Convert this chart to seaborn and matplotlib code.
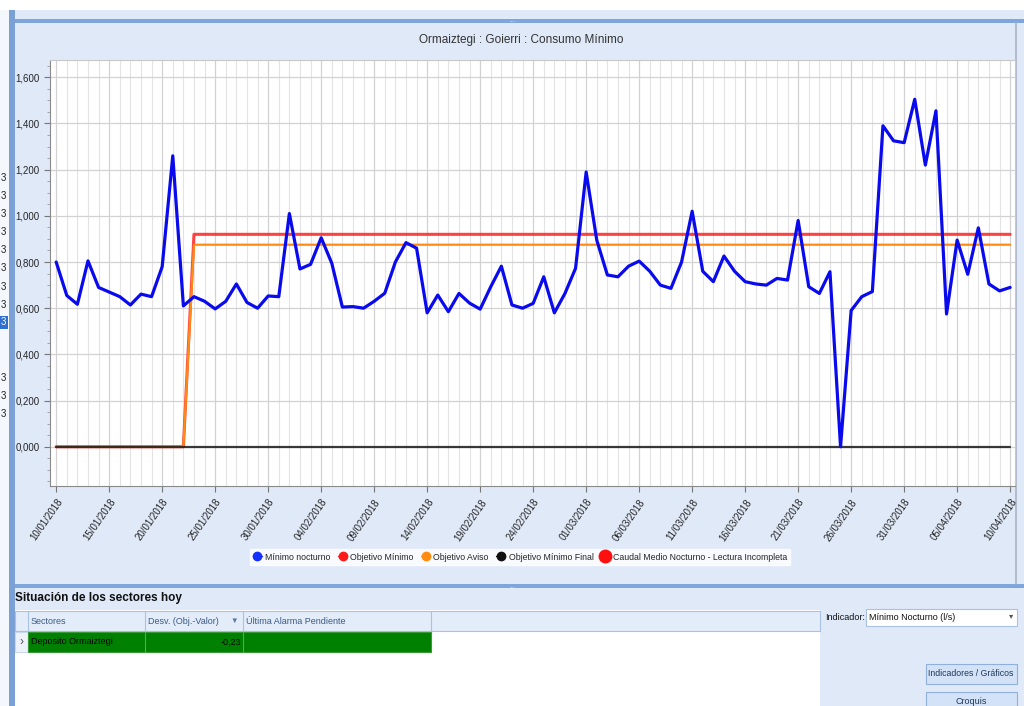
import pandas as pd
import matplotlib.pyplot as plt
import seaborn as sns
from matplotlib.patches import Rectangle
from matplotlib.lines import Line2D
from matplotlib.ticker import MultipleLocator, FuncFormatter

# --- Datos ---
fechas = pd.date_range('2018-01-10', '2018-04-10', freq='D')

minimo_nocturno = [
    0.80, 0.655, 0.617, 0.805, 0.69, 0.67, 0.65, 0.614, 0.661, 0.65,
    0.78, 1.26, 0.61, 0.65, 0.63, 0.597, 0.63, 0.705, 0.625, 0.60,
    0.653, 0.65, 1.01, 0.77, 0.79, 0.905, 0.795, 0.605, 0.607, 0.60,
    0.63, 0.665, 0.80, 0.884, 0.86, 0.58, 0.657, 0.585, 0.664, 0.622,
    0.596, 0.693, 0.782, 0.614, 0.60, 0.621, 0.736, 0.58, 0.664, 0.773,
    1.19, 0.895, 0.744, 0.736, 0.782, 0.804, 0.76, 0.70, 0.686, 0.80,
    1.02, 0.76, 0.715, 0.826, 0.76, 0.715, 0.705, 0.70, 0.729, 0.722,
    0.98, 0.693, 0.664, 0.758, 0.0, 0.59, 0.65, 0.672, 1.39, 1.325,
    1.317, 1.505, 1.22, 1.455, 0.575, 0.895, 0.747, 0.948, 0.705, 0.675,
    0.69,
]
objetivo_minimo = [0.0] * 13 + [0.92] * 78
objetivo_aviso = [0.0] * 13 + [0.875] * 78
objetivo_minimo_final = [0.0] * 91

etiquetas_x = ['10/01/2018', '15/01/2018', '20/01/2018', '25/01/2018', '30/01/2018',
               '04/02/2018', '09/02/2018', '14/02/2018', '19/02/2018', '24/02/2018',
               '01/03/2018', '06/03/2018', '11/03/2018', '16/03/2018', '21/03/2018',
               '26/03/2018', '31/03/2018', '05/04/2018', '10/04/2018']

series_leyenda = ['Mínimo nocturno', 'Objetivo Mínimo', 'Objetivo Aviso',
                  'Objetivo Mínimo Final', 'Caudal Medio Nocturno - Lectura Incompleta']

columnas_tabla = ['Sectores', 'Desv. (Obj.-Valor)', 'Última Alarma Pendiente']
fila_tabla = ['Deposito Ormaiztegi', '-0,23', '']

# --- Estilo ---
sns.set_style('white')
plt.rcParams['font.family'] = ['Liberation Sans', 'DejaVu Sans']

W, H = 1024, 706
fig = plt.figure(figsize=(W / 100, H / 100), dpi=100)
fig.patch.set_facecolor('#dfe9f8')

# capa de interfaz en coordenadas de pixel
ui = fig.add_axes([0, 0, 1, 1], zorder=-1)
ui.set_xlim(0, W)
ui.set_ylim(H, 0)
ui.axis('off')

def caja(x0, y0, x1, y1, fc, ec='none', lw=0.8):
    ui.add_patch(Rectangle((x0, y0), x1 - x0, y1 - y0, facecolor=fc, edgecolor=ec, linewidth=lw))

caja(0, 0, W, 10, 'white')
caja(0, 10, 9, H, '#f4f7fc')
caja(9, 10, 15, H, '#7aa0d6')
caja(15, 19, W, 23, '#7ea6dc')
caja(15, 584, W, 588, '#7ea6dc')
ui.text(W / 2, 21, '....', color='white', fontsize=4, ha='center', va='center')
ui.text(W / 2, 586, '....', color='white', fontsize=4, ha='center', va='center')
ui.plot([1016, 1016], [23, 584], color='#aab4c6', lw=1.2)

# restos de otro panel a la izquierda
for yy in [178, 196, 214, 232, 250, 268, 287, 305, 378, 396, 414]:
    ui.text(1, yy, '3', fontsize=7, va='center', color='#222')
caja(0, 316, 8, 329, '#2f6fd0')
ui.text(1, 322, '3', fontsize=7, va='center', color='white')

# titulo
ui.text(521, 40, 'Ormaiztegi : Goierri : Consumo Mínimo', fontsize=8.5,
        ha='center', va='center', color='#333333')

# --- Gráfico principal ---
ax = fig.add_axes([50 / W, 1 - 486 / H, (1015 - 50) / W, (486 - 60) / H])
ax.set_facecolor('white')

sns.lineplot(x=fechas, y=objetivo_minimo, color='#ff2020', linewidth=2.2, alpha=0.85, ax=ax)
sns.lineplot(x=fechas, y=objetivo_aviso, color='#ff8a14', linewidth=1.6, ax=ax)
sns.lineplot(x=fechas, y=objetivo_minimo_final, color='#1a1a1a', linewidth=1.6, alpha=0.85, ax=ax)
sns.lineplot(x=fechas, y=minimo_nocturno, color='#0a0aee', linewidth=2.3, ax=ax)

ax.set_xlim(fechas[0] - pd.Timedelta(hours=14), fechas[-1] + pd.Timedelta(hours=11))
ax.set_ylim(-0.170, 1.675)
ax.set_xticks(fechas[::5])
ax.set_xticklabels(etiquetas_x, rotation=55, ha='right', va='top',
                   rotation_mode='anchor', fontsize=7)
ax.set_xticks(fechas, minor=True)
ax.yaxis.set_major_locator(MultipleLocator(0.2))
ax.yaxis.set_minor_locator(MultipleLocator(0.05))
ax.yaxis.set_major_formatter(FuncFormatter(lambda v, p: f'{v:.3f}'.replace('.', ',')))
ax.tick_params(axis='y', labelsize=7, length=4, color='#777777', direction='out', left=True)
ax.tick_params(axis='y', which='minor', length=2, color='#999999', left=True)
ax.tick_params(axis='x', length=4, color='#777777', direction='out', bottom=True, pad=4)
ax.tick_params(axis='x', which='minor', length=0)
ax.grid(True, which='major', color='#d2d2d2', linewidth=0.9)
ax.grid(True, which='minor', axis='x', color='#e3e3e3', linewidth=0.8)
ax.set_xlabel('')
ax.set_ylabel('')
for lado in ['left', 'bottom']:
    ax.spines[lado].set_color('#8a8a8a')
for lado in ['top', 'right']:
    ax.spines[lado].set_color('#c8c8c8')

# leyenda
colores = ['#1530ff', '#ff1a1a', '#ff8c10', '#111111']
manejadores = [Line2D([], [], color=c, marker='o', markersize=6, linewidth=1.0) for c in colores]
manejadores.append(Line2D([], [], color='#ff1010', marker='o', markersize=9, linestyle='none'))
fig.legend(manejadores, series_leyenda, loc='center', bbox_to_anchor=(520 / W, 1 - 557 / H),
           ncol=5, fontsize=6.3, frameon=True, facecolor='white', edgecolor='white',
           fancybox=False, handlelength=1.1, handletextpad=0.35, columnspacing=0.8,
           borderpad=0.35)

# --- Panel inferior ---
ui.text(15, 598, 'Situación de los sectores hoy', fontsize=8.5, fontweight='bold',
        va='center', color='#111111')
caja(15, 610, 820, H, 'white')
caja(15, 611, 820, 631, '#e3ecf9', '#a9c1e2')
for xx in [28, 145, 243, 431]:
    ui.plot([xx, xx], [611, 631], color='#a9c1e2', lw=0.8)
ui.text(31, 621, columnas_tabla[0], fontsize=6.5, va='center', color='#3b5a86')
ui.text(148, 621, columnas_tabla[1], fontsize=6.5, va='center', color='#3b5a86')
ui.text(230, 621, '▼', fontsize=5.5, va='center', color='#5a76a0')
ui.text(246, 621, columnas_tabla[2], fontsize=6.5, va='center', color='#3b5a86')

caja(15, 632, 28, 652, '#eef3fb', '#c9d8ee')
ui.text(19, 642, '›', fontsize=9, va='center', color='#555555')
caja(28, 632, 431, 652, '#008000', '#3a9a3a')
for xx in [145, 243]:
    ui.plot([xx, xx], [632, 652], color='#55aa55', lw=0.8)
ui.text(31, 642, fila_tabla[0], fontsize=6.5, va='center', color='black')
ui.text(241, 642, fila_tabla[1], fontsize=6.5, va='center', ha='right', color='black')

# indicador y botones
ui.text(825, 617, 'Indicador:', fontsize=6.5, va='center', color='#111111')
caja(866, 609, 1017, 626, 'white', '#a9c1e2')
ui.text(869, 617, 'Mínimo Nocturno (l/s)', fontsize=6.5, va='center', color='#111111')
ui.text(1011, 617, '▾', fontsize=6, va='center', ha='center', color='#555555')
caja(926, 664, 1017, 684, '#d3e2f6', '#8fb0dc')
ui.text(971, 674, 'Indicadores / Gráficos', fontsize=6.3, va='center', ha='center', color='#1e395b')
caja(926, 692, 1017, 712, '#d3e2f6', '#8fb0dc')
ui.text(971, 701, 'Croquis', fontsize=6.5, va='center', ha='center', color='#1e395b')

plt.savefig('out.png', dpi=100, facecolor=fig.get_facecolor())
plt.close()
